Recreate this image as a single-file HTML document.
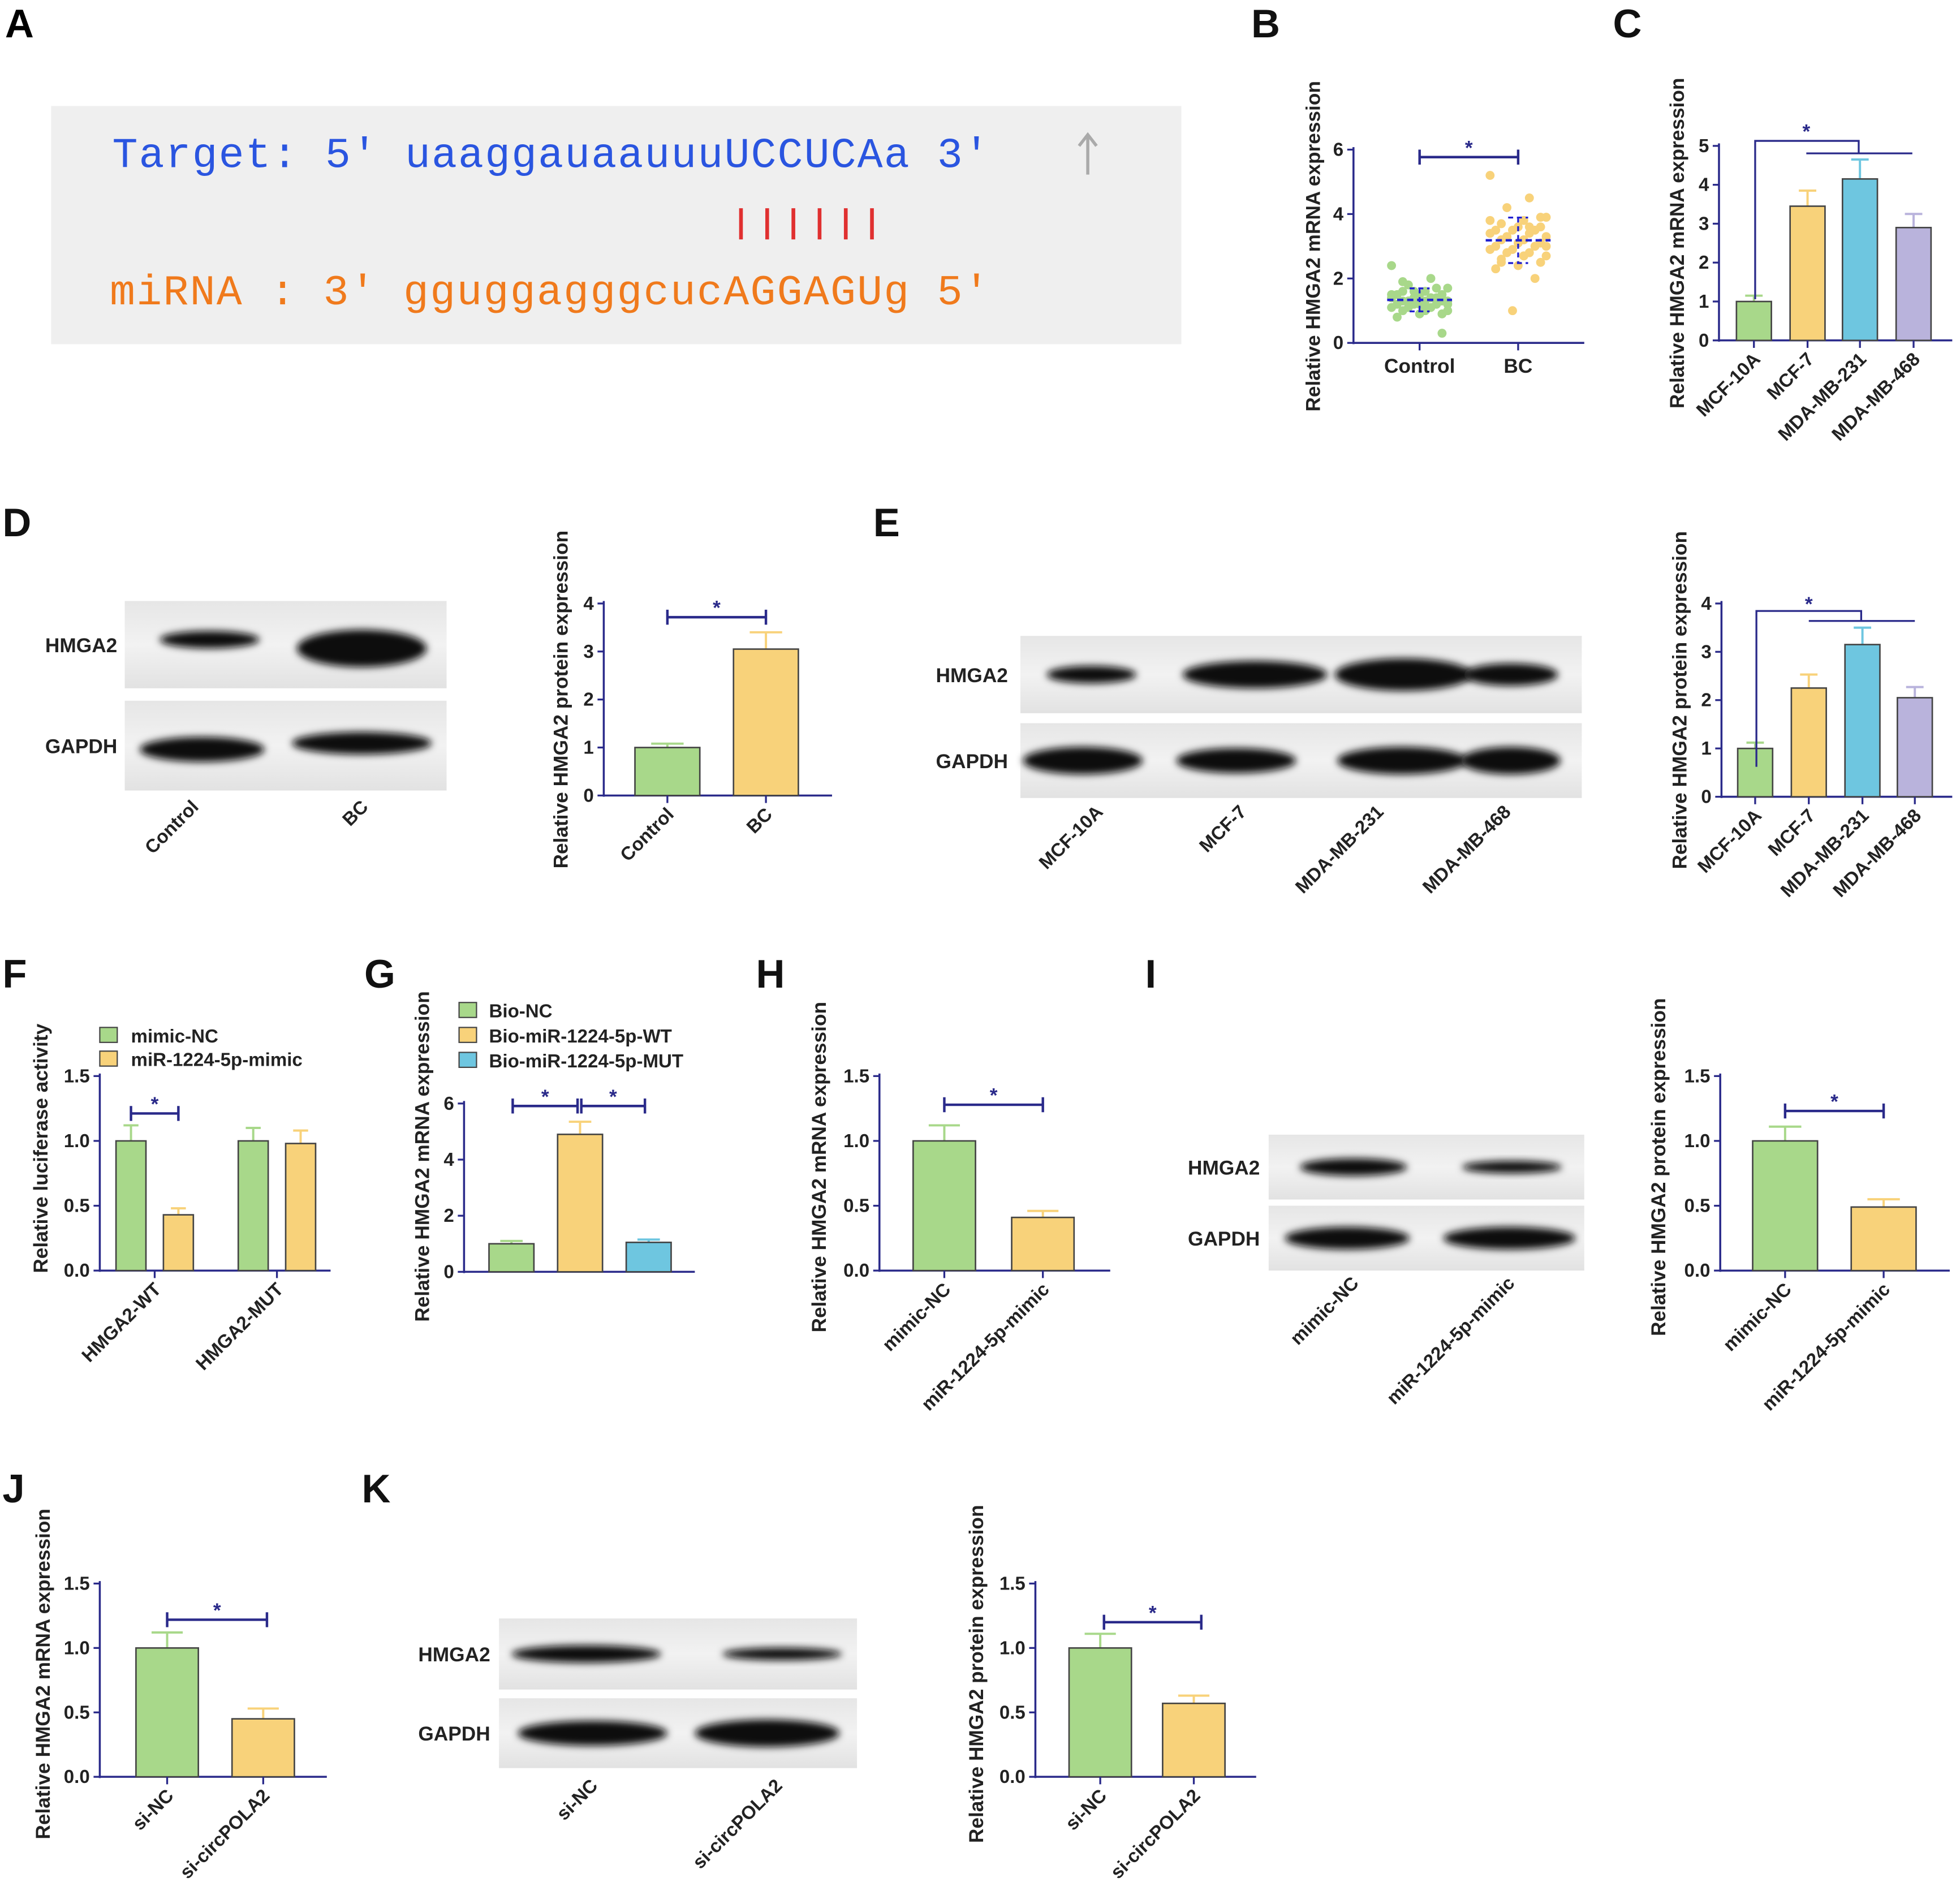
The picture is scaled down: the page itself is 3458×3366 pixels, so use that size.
<!DOCTYPE html>
<html><head><meta charset="utf-8"><style>
html,body{margin:0;padding:0;background:#fff;}
svg{display:block;}
text{font-family:"Liberation Sans",Arial,sans-serif;}
text.mono{font-family:"Liberation Mono",monospace;}
</style></head><body>
<svg id="fig" xmlns="http://www.w3.org/2000/svg" width="3458" height="3366" viewBox="0 0 1568 1527" preserveAspectRatio="none">
<defs>
<filter id="blur" x="-20%" y="-50%" width="140%" height="200%"><feGaussianBlur stdDeviation="3"/></filter>
<linearGradient id="blotbg" x1="0" y1="0" x2="0" y2="1"><stop offset="0" stop-color="#e6e6e6"/><stop offset="0.5" stop-color="#f2f2f2"/><stop offset="1" stop-color="#e2e2e2"/></linearGradient>
</defs>
<g>
<text x="4" y="30" font-size="32" font-weight="bold">A</text>
<rect x="41" y="85" width="906" height="191" fill="#efefef"/>
<text class="mono" x="90" y="134" font-size="34" fill="#2a55e0" xml:space="preserve" textLength="703">Target: 5' uaaggauaauuuUCCUCAa 3'</text>
<text class="mono" x="88" y="244" font-size="34" fill="#f07a1c" xml:space="preserve" textLength="705">miRNA : 3' gguggagggcucAGGAGUg 5'</text>
<g stroke="#e03030" stroke-width="3">
<line x1="594" y1="167" x2="594" y2="192"/><line x1="615" y1="167" x2="615" y2="192"/><line x1="636" y1="167" x2="636" y2="192"/><line x1="657" y1="167" x2="657" y2="192"/><line x1="678" y1="167" x2="678" y2="192"/><line x1="699" y1="167" x2="699" y2="192"/>
</g>
<g stroke="#aaa" stroke-width="2.5" fill="none"><line x1="872" y1="110" x2="872" y2="140"/><polyline points="865,117 872,108 879,117"/></g>
</g>
<g id="dyn"></g>
</svg>
<script>
var NS="http://www.w3.org/2000/svg";
var root=document.getElementById('dyn');
var AX="#2a2a8a";
var GREEN="#a8d88a",YEL="#f8d27a",BLUE="#6ec6e0",PURP="#b9b3dc";

var ctrlVals=[2.4,2.0,1.8,1.7,1.6,1.6,1.5,1.5,1.5,1.4,1.4,1.4,1.4,1.3,1.3,1.3,1.3,1.3,1.2,1.2,1.2,1.2,1.1,1.1,1.1,1.0,1.0,1.0,0.9,0.9,0.8,1.7,1.6,1.5,1.4,1.3,1.2,1.1,1.9,0.3];
var bcVals=[5.2,4.5,4.2,3.9,3.8,3.7,3.6,3.6,3.5,3.5,3.5,3.4,3.4,3.3,3.3,3.2,3.2,3.1,3.1,3.0,3.0,2.9,2.9,2.8,2.8,2.7,2.7,2.6,2.5,2.4,2.3,2.0,1.0,3.8,3.6,3.3,3.0,2.7,2.5,3.9];
var bCats=["Control","BC"];
var bTicks=["0","2","4","6"];
var cCats=["MCF-10A","MCF-7","MDA-MB-231","MDA-MB-468"];
var cVals=[1.0,3.45,4.15,2.9];
var cErrs=[0.15,0.4,0.5,0.35];
var cTicks=["0","1","2","3","4","5"];
var dCats=["Control","BC"];
var dVals=[1.0,3.05];
var dErrs=[0.08,0.35];
var dTicks=["0","1","2","3","4"];
var eCats=["MCF-10A","MCF-7","MDA-MB-231","MDA-MB-468"];
var eVals=[1.0,2.25,3.15,2.05];
var eErrs=[0.12,0.28,0.35,0.22];
var eTicks=["0","1","2","3","4"];
var fCats=["HMGA2-WT","HMGA2-MUT"];
var fNC=[1.0,1.0];
var fNCerr=[0.12,0.1];
var fMimic=[0.43,0.98];
var fMimicErr=[0.05,0.1];
var f15Ticks=["0.0","0.5","1.0","1.5"];
var gVals=[1.0,4.9,1.05];
var gErrs=[0.1,0.45,0.1];
var gTicks=["0","2","4","6"];
var gLegend=["Bio-NC","Bio-miR-1224-5p-WT","Bio-miR-1224-5p-MUT"];
var hCats=["mimic-NC","miR-1224-5p-mimic"];
var hVals=[1.0,0.41];
var hErrs=[0.12,0.05];
var iVals=[1.0,0.49];
var iErrs=[0.11,0.06];
var jCats=["si-NC","si-circPOLA2"];
var jVals=[1.0,0.45];
var jErrs=[0.12,0.08];
var kVals=[1.0,0.57];
var kErrs=[0.11,0.06];

function el(tag,attrs,parent,txt){var e=document.createElementNS(NS,tag);for(var k in attrs)e.setAttribute(k,attrs[k]);if(txt!==undefined)e.textContent=txt;(parent||root).appendChild(e);return e;}

function axes(g,c,ticks){
  var ax=el('line',{x1:c.x,y1:c.y0+1,x2:c.x,y2:c.yTop-2,stroke:AX,'stroke-width':1.6},g);
  
  
  var bx=el('line',{x1:c.x,y1:c.y0,x2:c.xEnd,y2:c.y0,stroke:AX,'stroke-width':1.6},g);
  
  
  for(var i=0;i<ticks.length;i++){
    var v=parseFloat(ticks[i]);var y=c.y0-(v/c.max)*(c.y0-c.yTop);
    el('line',{x1:c.x-5,y1:y,x2:c.x,y2:y,stroke:AX,'stroke-width':1.5},g);
    var t=el('text',{x:c.x-8,y:y+5,'font-size':15,'font-weight':'bold','text-anchor':'end',fill:'#222'},g,ticks[i]);
    
    
  }
  var tt=el('text',{x:0,y:0,'font-size':16,'font-weight':'bold','text-anchor':'middle',fill:'#222',transform:'translate('+c.tx+','+((c.y0+c.yTop)/2+c.tdy)+') rotate(-90)'},g,c.title);
  
  
}
function yv(c,v){return c.y0-(v/c.max)*(c.y0-c.yTop);}
function bar(g,c,cx,v,e,col,name){
  var y=yv(c,v),ye=yv(c,v+e);
  el('line',{x1:cx,y1:y,x2:cx,y2:ye,stroke:col,'stroke-width':1.8},g);
  el('line',{x1:cx-c.bw/4,y1:ye,x2:cx+c.bw/4,y2:ye,stroke:col,'stroke-width':1.8},g);
  var r=el('rect',{x:cx-c.bw/2,y:y,width:c.bw,height:c.y0-y,fill:col,stroke:'#444','stroke-width':1.2},g);
  
  
}
function xlabel(g,c,cx,s,rot){
  var t;
  if(rot) t=el('text',{x:cx+6,y:c.y0+16,'font-size':15,'font-weight':'bold','text-anchor':'end',fill:'#222',transform:'rotate(-45 '+(cx+6)+' '+(c.y0+16)+')'},g,s);
  else t=el('text',{x:cx,y:c.y0+24,'font-size':16,'font-weight':'bold','text-anchor':'middle',fill:'#222'},g,s);
  
  
  el('line',{x1:cx,y1:c.y0,x2:cx,y2:c.y0+6,stroke:AX,'stroke-width':1.5},g);
}
function sig(g,x1,x2,y){
  el('path',{d:'M'+x1+' '+(y+6)+'V'+(y-6)+'M'+x1+' '+y+'H'+x2+'M'+x2+' '+(y-6)+'V'+(y+6),stroke:AX,'stroke-width':2,fill:'none'},g);
  var s=el('text',{x:(x1+x2)/2,y:y-2,'font-size':16,'font-weight':'bold','text-anchor':'middle',fill:AX},g,'*');
  
  
}
function letter(g,x,y,s){var t=el('text',{x:x,y:y,'font-size':32,'font-weight':'bold',fill:'#111'},g,s);}
function panel(name){var g=el('g',{},root);return g;}
function simpleBars(g,c,cats,vals,errs,cols,ticks,rot){
  axes(g,c,ticks);
  for(var i=0;i<vals.length;i++){bar(g,c,c.cx[i],vals[i],errs[i],cols[i],'bar-'+cats[i].toLowerCase());xlabel(g,c,c.cx[i],cats[i],rot);}
}
function blot(g,x,y,w,h,bands,label,lx){
  var r=el('rect',{x:x,y:y,width:w,height:h,fill:'url(#blotbg)'},g);
  
  
  for(var i=0;i<bands.length;i++){var b=bands[i];el('ellipse',{cx:b[0],cy:y+h/2+(b[3]||0),rx:b[1],ry:b[2],fill:'#111',filter:'url(#blur)'},g);}
  var t=el('text',{x:lx,y:y+h/2+6,'font-size':16,'font-weight':'bold','text-anchor':'end',fill:'#222'},g,label);
  
  
}
function blotLabel(g,x,y,s){var t=el('text',{x:x,y:y,'font-size':15,'font-weight':'bold','text-anchor':'end',fill:'#222',transform:'rotate(-45 '+x+' '+y+')'},g,s);}

(function(){
  var g=panel('panel-b');letter(g,1003,30,'B');
  var c={x:1085,y0:275,yTop:120,max:6,xEnd:1270,tx:1058,tdy:0,title:'Relative  HMGA2 mRNA expression'};
  axes(g,c,bTicks);
  var groups=[[1138,ctrlVals,GREEN],[1217,bcVals,YEL]];
  for(var k=0;k<2;k++){
    var cx=groups[k][0],vals=groups[k][1],col=groups[k][2],sum=0;
    for(var i=0;i<vals.length;i++){
      var off=((i*7)%11-5)*4.5;
      var p=el('circle',{cx:cx+off,cy:yv(c,vals[i]),r:3.6,fill:col},g);
      
      
      sum+=vals[i];
    }
    var m=sum/vals.length,sd=0;for(i=0;i<vals.length;i++)sd+=(vals[i]-m)*(vals[i]-m);sd=Math.sqrt(sd/vals.length);
    el('line',{x1:cx-26,y1:yv(c,m),x2:cx+26,y2:yv(c,m),stroke:'#2020d0','stroke-width':2,'stroke-dasharray':'5,3'},g);
    el('path',{d:'M'+(cx-8)+' '+yv(c,m+sd)+'H'+(cx+8)+'M'+cx+' '+yv(c,m+sd)+'V'+yv(c,m-sd)+'M'+(cx-8)+' '+yv(c,m-sd)+'H'+(cx+8),stroke:'#2020d0','stroke-width':1.5,'stroke-dasharray':'4,3',fill:'none'},g);
    xlabel(g,c,cx,bCats[k],false);
  }
  sig(g,1138,1217,126);
})();
(function(){
  var g=panel('panel-c');letter(g,1293,30,'C');
  var c={x:1378,y0:273,yTop:117,max:5,xEnd:1565,tx:1350,tdy:0,bw:28,cx:[1406,1449,1491,1534],title:'Relative HMGA2 mRNA expression'};
  simpleBars(g,c,cCats,cVals,cErrs,[GREEN,YEL,BLUE,PURP],cTicks,true);
  el('path',{d:'M1407 240V113H1490V123M1448 123H1533',stroke:AX,'stroke-width':1.5,fill:'none'},g);
  el('text',{x:1448,y:111,'font-size':16,'font-weight':'bold','text-anchor':'middle',fill:AX},g,'*');
})();
(function(){
  var g=panel('panel-d');letter(g,2,430,'D');
  blot(g,100,482,258,70,[[168,40,7,-4],[290,52,15,3]],'HMGA2',94);
  blot(g,100,562,258,72,[[162,50,10,3],[290,56,9,-2]],'GAPDH',94);
  blotLabel(g,160,648,'Control');blotLabel(g,296,648,'BC');
  var c={x:484,y0:638,yTop:484,max:4,xEnd:667,tx:455,tdy:0,bw:52,cx:[535,614],title:'Relative HMGA2 protein expression'};
  simpleBars(g,c,dCats,dVals,dErrs,[GREEN,YEL],dTicks,true);
  sig(g,535,614,495);
})();
(function(){
  var g=panel('panel-e');letter(g,700,430,'E');
  blot(g,818,510,450,62,[[875,36,7],[1006,58,11],[1125,55,13],[1211,38,9]],'HMGA2',808);
  blot(g,818,580,450,60,[[868,48,11],[991,48,10],[1124,52,11],[1211,40,11]],'GAPDH',808);
  blotLabel(g,885,652,'MCF-10A');blotLabel(g,1000,652,'MCF-7');blotLabel(g,1110,652,'MDA-MB-231');blotLabel(g,1212,652,'MDA-MB-468');
  var c={x:1380,y0:639,yTop:484,max:4,xEnd:1565,tx:1352,tdy:0,bw:28,cx:[1407,1450,1493,1535],title:'Relative HMGA2 protein expression'};
  simpleBars(g,c,eCats,eVals,eErrs,[GREEN,YEL,BLUE,PURP],eTicks,true);
  el('path',{d:'M1408 615V490H1492V498M1450 498H1535',stroke:AX,'stroke-width':1.5,fill:'none'},g);
  el('text',{x:1450,y:490,'font-size':16,'font-weight':'bold','text-anchor':'middle',fill:AX},g,'*');
})();
(function(){
  var g=panel('panel-f');letter(g,2,792,'F');
  var c={x:80,y0:1019,yTop:863,max:1.5,xEnd:265,tx:38,tdy:-20,bw:24,title:'Relative luciferase activity'};
  axes(g,c,f15Ticks);
  var gx=[124,222];
  for(var i=0;i<fCats.length;i++){
    bar(g,c,gx[i]-19,fNC[i],fNCerr[i],GREEN,'bar-mimic-nc');
    bar(g,c,gx[i]+19,fMimic[i],fMimicErr[i],YEL,'bar-mir-mimic');
    xlabel(g,c,gx[i],fCats[i],true);
  }
  sig(g,105,143,893);
  var leg=[['mimic-NC',GREEN],['miR-1224-5p-mimic',YEL]];
  for(i=0;i<2;i++){el('rect',{x:80,y:824+i*19,width:14,height:12,fill:leg[i][1],stroke:'#444'},g);
    var t=el('text',{x:105,y:836+i*19,'font-size':15,'font-weight':'bold',fill:'#222'},g,leg[i][0]);}
})();
(function(){
  var g=panel('panel-g');letter(g,292,792,'G');
  var c={x:372,y0:1020,yTop:885,max:6,xEnd:557,tx:344,tdy:-25,bw:36,title:'Relative HMGA2 mRNA expression'};
  axes(g,c,gTicks);
  var cols=[GREEN,YEL,BLUE],cx=[410,465,520];
  for(var i=0;i<gVals.length;i++)bar(g,c,cx[i],gVals[i],gErrs[i],cols[i],'bar-g-'+i);
  sig(g,411,463,887);sig(g,466,517,887);
  for(i=0;i<3;i++){el('rect',{x:368,y:804+i*20,width:14,height:12,fill:cols[i],stroke:'#444'},g);
    var t=el('text',{x:392,y:816+i*20,'font-size':15,'font-weight':'bold',fill:'#222'},g,gLegend[i]);}
})();
(function(){
  var g=panel('panel-h');letter(g,606,792,'H');
  var c={x:705,y0:1019,yTop:863,max:1.5,xEnd:890,tx:662,tdy:-5,bw:50,cx:[757,836],title:'Relative HMGA2 mRNA expression'};
  simpleBars(g,c,hCats,hVals,hErrs,[GREEN,YEL],f15Ticks,true);
  sig(g,757,836,886);
})();
(function(){
  var g=panel('panel-i');letter(g,918,792,'I');
  blot(g,1017,910,253,52,[[1085,43,7],[1212,40,5]],'HMGA2',1010);
  blot(g,1017,967,253,52,[[1080,50,9],[1210,53,9]],'GAPDH',1010);
  blotLabel(g,1090,1030,'mimic-NC');blotLabel(g,1215,1030,'miR-1224-5p-mimic');
  var c={x:1379,y0:1019,yTop:863,max:1.5,xEnd:1563,tx:1335,tdy:-5,bw:52,cx:[1431,1510],title:'Relative HMGA2 protein expression'};
  simpleBars(g,c,hCats,iVals,iErrs,[GREEN,YEL],f15Ticks,true);
  sig(g,1431,1510,891);
})();
(function(){
  var g=panel('panel-j');letter(g,2,1205,'J');
  var c={x:80,y0:1425,yTop:1270,max:1.5,xEnd:262,tx:40,tdy:-5,bw:50,cx:[134,211],title:'Relative HMGA2 mRNA expression'};
  simpleBars(g,c,jCats,jVals,jErrs,[GREEN,YEL],f15Ticks,true);
  sig(g,134,214,1299);
})();
(function(){
  var g=panel('panel-k');letter(g,290,1205,'K');
  blot(g,400,1298,287,57,[[470,60,7],[627,48,5]],'HMGA2',393);
  blot(g,400,1362,287,56,[[475,60,10],[615,58,11]],'GAPDH',393);
  blotLabel(g,480,1433,'si-NC');blotLabel(g,628,1433,'si-circPOLA2');
  var c={x:830,y0:1425,yTop:1270,max:1.5,xEnd:1007,tx:788,tdy:-5,bw:50,cx:[882,957],title:'Relative HMGA2 protein expression'};
  simpleBars(g,c,jCats,kVals,kErrs,[GREEN,YEL],f15Ticks,true);
  sig(g,885,963,1301);
})();
</script>
</body></html>
